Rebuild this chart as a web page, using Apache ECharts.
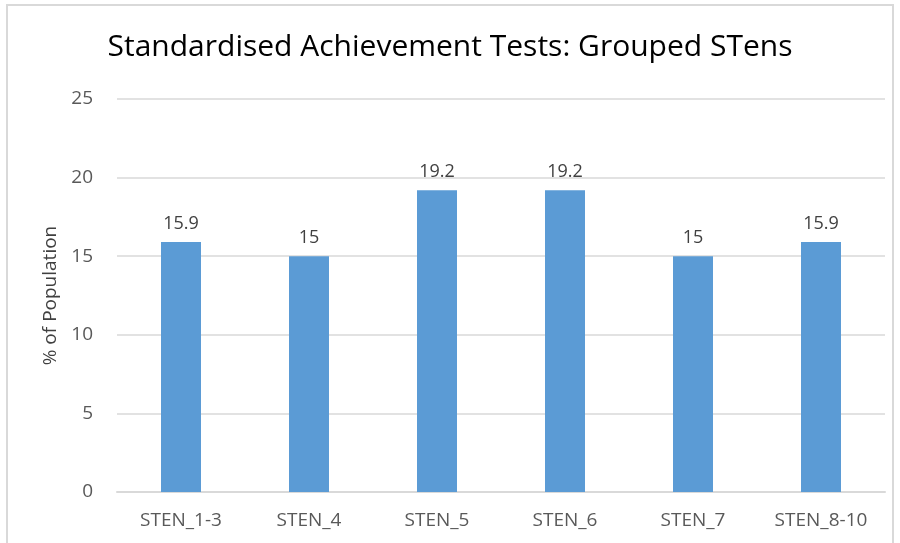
<!DOCTYPE html>
<html>
<head>
<meta charset="utf-8">
<style>
  html, body { margin: 0; padding: 0; background: #fff; }
  #chart { width: 900px; height: 543px; }
</style>
<script src="https://cdn.jsdelivr.net/npm/echarts@6/dist/echarts.min.js"></script>
</head>
<body>
<div id="chart"></div>
<script>
var categories = ['STEN_1-3', 'STEN_4', 'STEN_5', 'STEN_6', 'STEN_7', 'STEN_8-10'];
var percentValues = [15.9, 15, 19.2, 19.2, 15, 15.9];
var yTicks = { min: 0, max: 25, interval: 5 };

var fontFamily = '"Open Sans", "Noto Sans", sans-serif';
var chart = echarts.init(document.getElementById('chart'));

chart.setOption({
    animation: false,
    title: {
        text: 'Standardised Achievement Tests: Grouped STens',
        left: 'center',
        top: 27,
        textStyle: { fontFamily: fontFamily, fontSize: 30, fontWeight: 'normal', color: '#000' }
    },
    graphic: [{
        type: 'rect',
        shape: { x: 7, y: 5, width: 886, height: 560 },
        style: { fill: 'none', stroke: '#d9d9d9', lineWidth: 2 },
        silent: true
    }],
    grid: { left: 117, right: 15, top: 99, bottom: 51 },
    xAxis: {
        type: 'category',
        data: categories,
        axisLine: { lineStyle: { color: '#d9d9d9', width: 2 } },
        axisTick: { show: false },
        axisLabel: { fontFamily: fontFamily, fontSize: 19, color: '#595959', margin: 19 }
    },
    yAxis: {
        type: 'value',
        min: yTicks.min,
        max: yTicks.max,
        interval: yTicks.interval,
        name: '% of Population',
        nameLocation: 'middle',
        nameGap: 55,
        nameTextStyle: { fontFamily: fontFamily, fontSize: 19, color: '#404040' },
        axisLine: { show: false },
        axisTick: { show: false },
        axisLabel: { fontFamily: fontFamily, fontSize: 19, color: '#595959', margin: 24 },
        splitLine: { lineStyle: { color: '#d9d9d9', width: 1.5 } }
    },
    series: [{
        type: 'bar',
        data: percentValues,
        barWidth: 40,
        itemStyle: { color: '#5b9bd5' },
        label: {
            show: true,
            position: 'top',
            distance: 9,
            fontFamily: fontFamily,
            fontSize: 18,
            color: '#404040'
        }
    }]
});
</script>
</body>
</html>
